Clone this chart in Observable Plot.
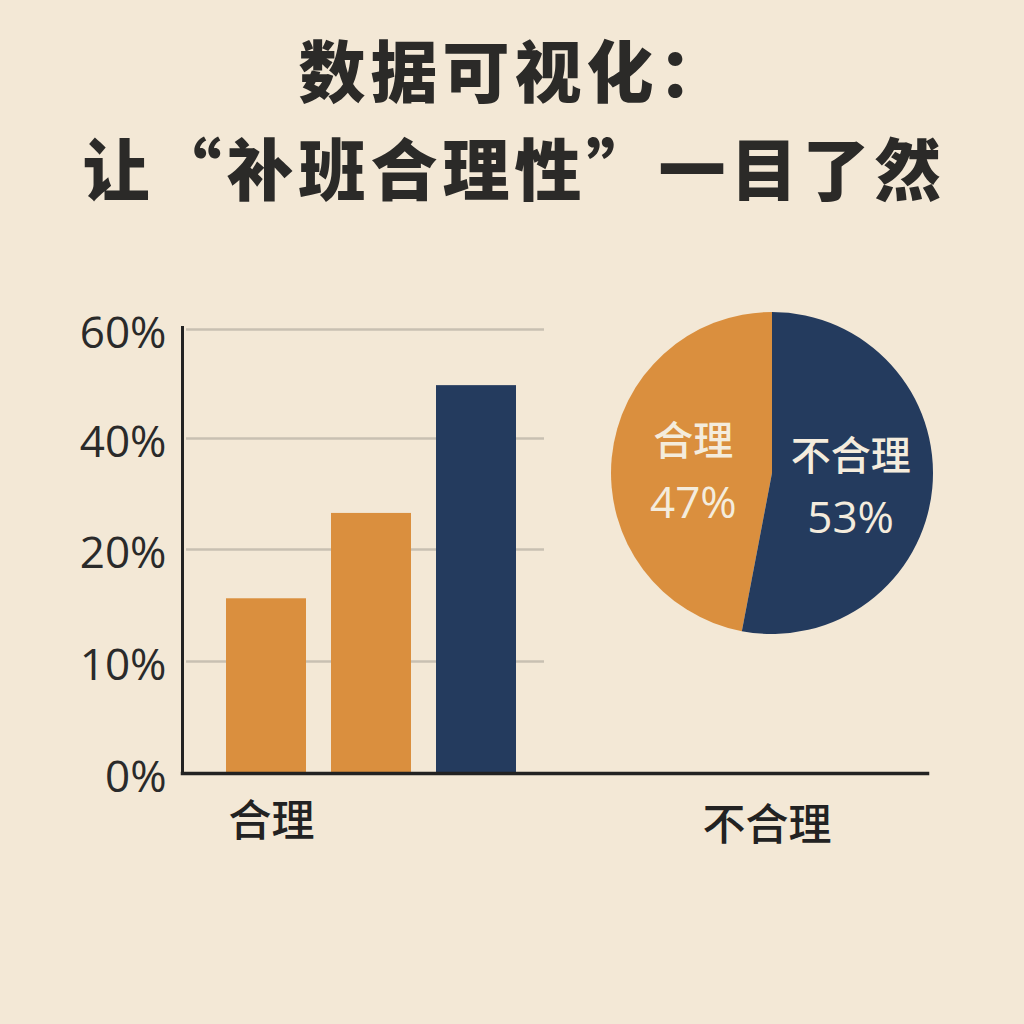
<!DOCTYPE html>
<html><head><meta charset="utf-8">
<script src="https://cdn.jsdelivr.net/npm/d3@7"></script>
<script src="https://cdn.jsdelivr.net/npm/@observablehq/plot@0.6"></script>
<style>
html,body{margin:0;padding:0;background:#F3E8D6;}
#wrap{width:1024px;height:1024px;overflow:hidden;background:#F3E8D6;}
#title{height:240px;box-sizing:border-box;padding-top:19px;text-align:center;font-family:"Noto Sans CJK SC";font-weight:900;font-size:67px;line-height:98px;letter-spacing:5px;color:#2b2a28;}
#title div{padding-left:5px;}
#chart svg{display:block;}
</style></head><body>
<div id="wrap">
<div id="title"><div>数据可视化：</div><div>让“补班合理性”一目了然</div></div>
<div id="chart"></div>
</div>
<script>
// ---- data ----
const categories = ["合理", "不合理"];
const colorRange = ["#DA8F3E", "#243B5E"];
const barIndex = [0, 1, 2];
const barGroups = ["合理", "合理", "不合理"];
const barValues = [15.6, 26.5, 49.7];
const yTicks = [0, 10, 20, 40, 60];
const gridValues = [10, 20, 40, 60];
const pieLabels = ["合理", "不合理"];
const pieValues = [47, 53];
const xLabels = ["合理", "不合理"];

const bars = barIndex.map((i) => ({i, group: barGroups[i], value: barValues[i]}));
const pieData = pieLabels.map((label, k) => ({label, value: pieValues[k]}));

// layout of the pie (pixels inside the svg)
const pieLayout = {cx: 772, cy: 233, r: 161, labelR: 79, lineGap: 31, labelShift: 6, xLabelDy: 352};

function pieMark() {
  return (index, scales, values, dims) => {
    const color = scales.color || ((d) => colorRange[categories.indexOf(d)]);
    const total = d3.sum(pieData, (d) => d.value);
    const start = -2 * Math.PI * pieData[0].value / total;
    const arcs = d3.pie().sort(null).value((d) => d.value)
      .startAngle(start).endAngle(start + 2 * Math.PI)(pieData);
    const arc = d3.arc().innerRadius(0).outerRadius(pieLayout.r);
    const labelArc = d3.arc().innerRadius(pieLayout.labelR).outerRadius(pieLayout.labelR);
    const g = d3.create("svg:g").attr("transform", `translate(${pieLayout.cx},${pieLayout.cy})`);
    g.selectAll("path").data(arcs).join("path")
      .attr("d", arc).attr("fill", (d) => color(d.data.label));
    const lab = g.selectAll("g.lab").data(arcs).join("g").attr("class", "lab")
      .attr("transform", (d) => { const [x, y] = labelArc.centroid(d); return `translate(${x},${y + pieLayout.labelShift})`; })
      .attr("fill", "#F4ECDD").attr("text-anchor", "middle");
    lab.append("text").attr("y", -pieLayout.lineGap).attr("dy", "0.36em")
      .attr("font-family", "'Noto Sans CJK SC'").attr("font-weight", 500).attr("font-size", 40)
      .text((d) => d.data.label);
    lab.append("text").attr("y", pieLayout.lineGap).attr("dy", "0.36em")
      .attr("font-family", "'Open Sans','Noto Sans'").attr("font-weight", 500).attr("font-size", 44)
      .text((d) => d.data.value + "%");
    g.append("text").attr("x", -5).attr("y", pieLayout.xLabelDy).attr("dy", "0.36em")
      .attr("text-anchor", "middle").attr("fill", "#222")
      .attr("font-family", "'Noto Sans CJK SC'").attr("font-weight", 500).attr("font-size", 43)
      .text(xLabels[1]);
    return g.node();
  };
}

const chart = Plot.plot({
  width: 1024,
  height: 784,
  marginTop: 87,
  marginBottom: 251,
  marginLeft: 182,
  marginRight: 97,
  style: {background: "transparent", fontFamily: "'Open Sans','Noto Sans','Noto Sans CJK SC'", color: "#2a2a2a"},
  x: {type: "band", domain: barIndex, range: [225, 517], paddingInner: 0.24, paddingOuter: 0, axis: null},
  y: {type: "linear", domain: yTicks, range: [533, 421, 309, 198, 89], axis: null},
  color: {domain: categories, range: colorRange},
  marks: [
    Plot.ruleY(gridValues, {stroke: "#C8C0B2", strokeWidth: 2.5, insetLeft: 4, insetRight: 383}),
    Plot.barY(bars, {x: "i", y: "value", fill: "group"}),
    Plot.axisY({ticks: yTicks, tickFormat: (d) => d + "%", tickSize: 0, tickPadding: 16,
      fontSize: 44, fill: "#2a2a2a", label: null, dy: 4}),
    Plot.frame({anchor: "left", stroke: "#222", strokeWidth: 3}),
    Plot.frame({anchor: "bottom", stroke: "#222", strokeWidth: 3.5}),
    Plot.text([xLabels[0]], {x: () => 0, text: (d) => d, frameAnchor: "bottom", dy: 62, dx: 5,
      fontSize: 43, fontWeight: 500, fill: "#222", fontFamily: "'Noto Sans CJK SC'"}),
    pieMark()
  ]
});
document.getElementById("chart").appendChild(chart);
</script>
</body></html>
